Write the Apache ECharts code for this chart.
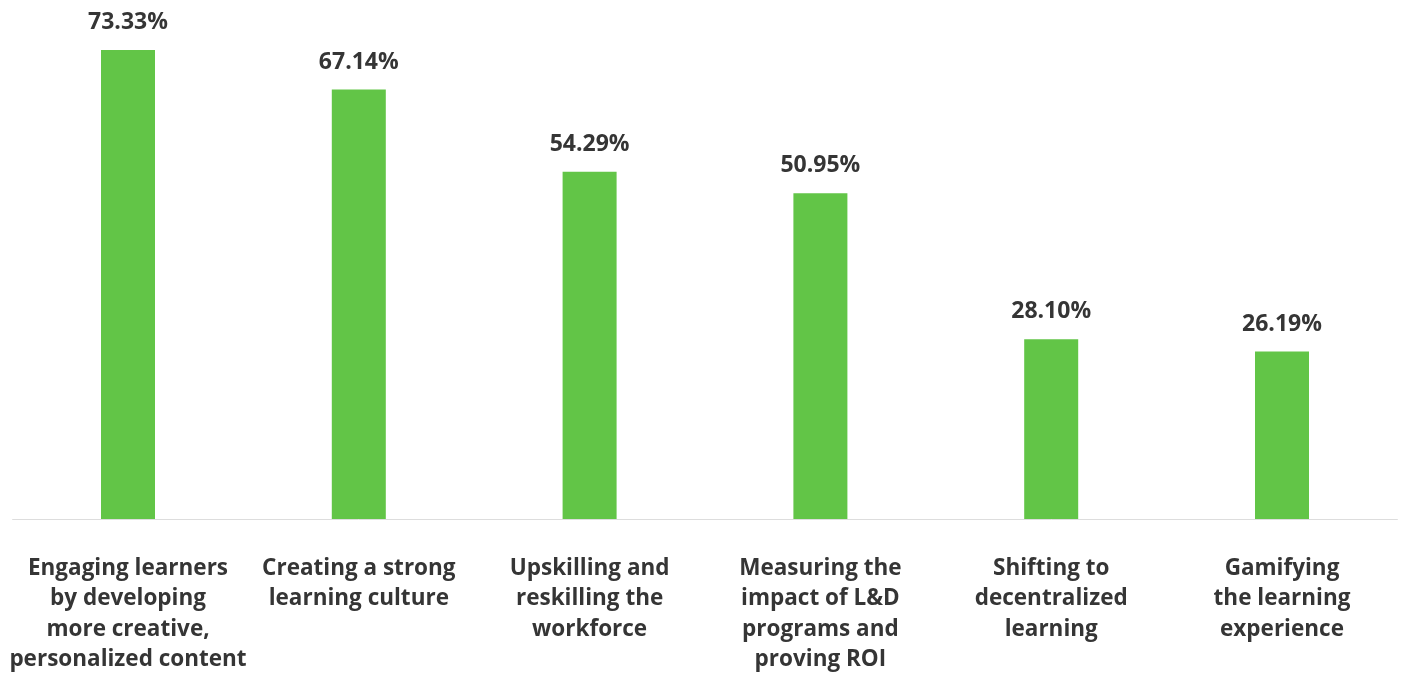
<!DOCTYPE html>
<html>
<head>
<meta charset="utf-8">
<script src="https://cdn.jsdelivr.net/npm/echarts@6/dist/echarts.min.js"></script>
<style>
  html, body { margin: 0; padding: 0; background: #ffffff; }
  #chart { width: 1409px; height: 675px; }
</style>
</head>
<body>
<div id="chart"></div>
<script>
// Top L&D priorities, share of respondents (%)
const categories = [
  'Engaging learners\nby developing\nmore creative,\npersonalized content',
  'Creating a strong\nlearning culture',
  'Upskilling and\nreskilling the\nworkforce',
  'Measuring the\nimpact of L&D\nprograms and\nproving ROI',
  'Shifting to\ndecentralized\nlearning',
  'Gamifying\nthe learning\nexperience'
];
const values = [73.33, 67.14, 54.29, 50.95, 28.10, 26.19];

const textColor = '#353535';
const fontFamily = '"Open Sans", Lato, sans-serif';

const chart = echarts.init(document.getElementById('chart'), null, { renderer: 'canvas' });
chart.setOption({
  backgroundColor: '#ffffff',
  animation: false,
  grid: { left: 12.6, right: 11.6, top: 50, bottom: 153, containLabel: false },
  xAxis: {
    type: 'category',
    data: categories,
    axisLine: { show: true, lineStyle: { color: '#dddddd', width: 1 } },
    axisTick: { show: false },
    axisLabel: {
      interval: 0,
      margin: 34,
      color: textColor,
      fontFamily: fontFamily,
      fontWeight: 'bold',
      fontSize: 22.5,
      lineHeight: 30.5,
      align: 'center'
    }
  },
  yAxis: {
    type: 'value',
    min: 0,
    max: 73.33,
    show: false,
    splitLine: { show: false }
  },
  series: [{
    type: 'bar',
    data: values,
    barWidth: 54,
    itemStyle: { color: '#62c547' },
    label: {
      show: true,
      position: 'top',
      distance: 16,
      formatter: p => p.value.toFixed(2) + '%',
      color: textColor,
      fontFamily: fontFamily,
      fontWeight: 'bold',
      fontSize: 23
    }
  }]
});
</script>
</body>
</html>
